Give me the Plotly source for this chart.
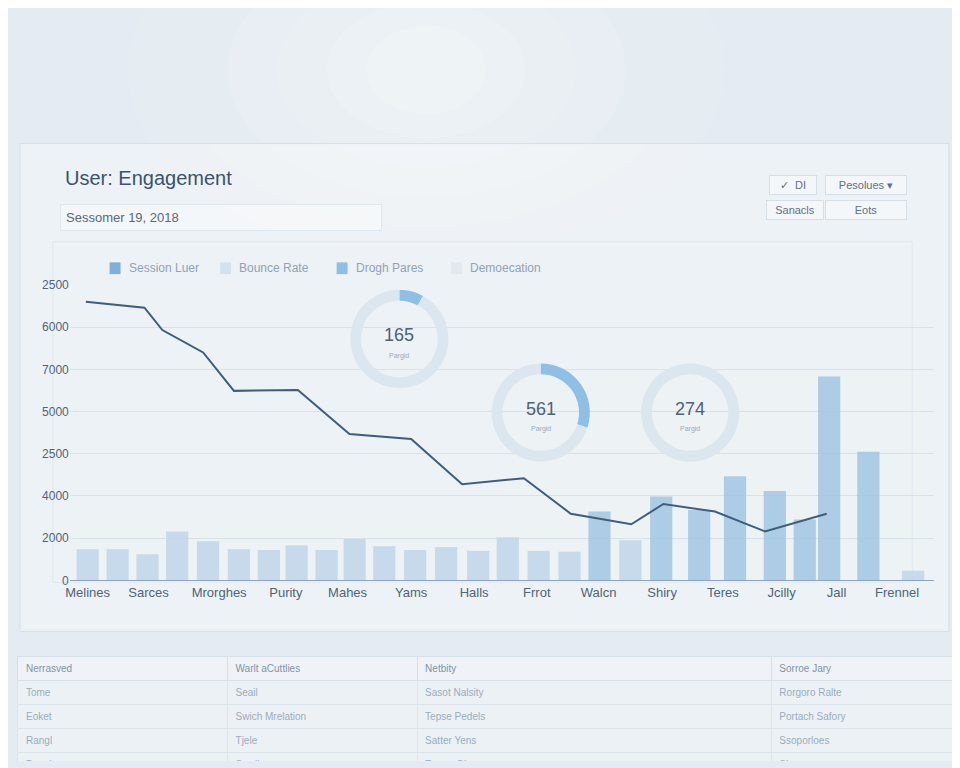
import plotly.graph_objects as go

# ------------------------- DATA -------------------------
bar_x = [0.58, 1.55, 2.52, 3.48, 4.48, 5.48, 6.45, 7.35, 8.32, 9.23, 10.19, 11.19, 12.19,
         13.23, 14.19, 15.19, 16.19, 17.16, 18.16, 19.16, 20.39, 21.55, 22.84, 23.81,
         24.6, 25.87, 27.32]
bar_values = [740, 740, 620, 1160, 930, 740, 720, 830, 720, 980, 810, 720, 790,
              700, 1020, 700, 680, 1630, 950, 1990, 1670, 2470, 2120, 1440,
              4830, 3050, 230]

line_x = [0.52, 2.42, 3.0, 4.32, 5.32, 7.39, 9.06, 11.06, 12.71, 14.71, 16.23,
          18.19, 19.23, 20.9, 22.52, 24.52]
line_values = [6600, 6460, 5930, 5400, 4490, 4510, 3470, 3350, 2280, 2420, 1580,
               1330, 1810, 1630, 1160, 1580]

category_pos = [0.58, 2.55, 4.84, 7.0, 9.0, 11.06, 13.1, 15.13, 17.13, 19.19,
                21.16, 23.06, 24.84, 26.8]
categories = ["Melines", "Sarces", "Mrorghes", "Purity", "Mahes", "Yams", "Halls",
              "Frrot", "Walcn", "Shiry", "Teres", "Jcilly", "Jall", "Frennel"]

y_tick_vals = [0, 1000, 2000, 3000, 4000, 5000, 6000, 7000]
y_tick_text = ["0", "2000", "4000", "2500", "5000", "7000", "6000", "2500"]

donut_labels = ["165", "561", "274"]
donut_shares = [8, 30, 0]

legend_names = ["Session Luer", "Bounce Rate", "Drogh Pares", "Demoecation"]
legend_colors = ["#7fb0d8", "#d4e2ee", "#8fc0e4", "#e2e8ee"]

table_cols = [["Nerrasved", "Tome", "Eoket", "Rangl", "Desais"],
              ["Warlt aCuttlies", "Seail", "Swich Mrelation", "Tjele", "Swell"],
              ["Netbity", "Sasot Nalsity", "Tepse Pedels", "Satter Yens", "Tpnon Ohn"],
              ["Sorroe Jary", "Rorgoro Ralte", "Portach Safory", "Ssoporloes", "Sloror"]]

# page puts the figure a few px in from the top-left corner
W, H, OFF = 952, 760, 4


def px(x):
    return (x - OFF) / W


def py(y):
    return 1 - (y - OFF) / H


# ------------------------- FIGURE -------------------------
fig = go.Figure()

# soft glow at top
for rx, ry, a in [(300, 190, 0.06), (250, 160, 0.07), (200, 130, 0.08),
                  (150, 100, 0.1), (100, 70, 0.12), (60, 45, 0.15)]:
    fig.add_shape(type="circle", xref="paper", yref="paper", x0=px(420 - rx),
                  x1=px(420 + rx), y0=py(60 + ry), y1=py(60 - ry),
                  fillcolor=f"rgba(255,255,255,{a})", line_width=0, layer="below")

bar_colors = ["#a6c8e4" if v > 1300 else "#c3d8ea" for v in bar_values]
fig.add_trace(go.Bar(x=bar_x, y=bar_values, width=0.72, marker_color=bar_colors,
                     marker_line_width=0, opacity=0.9, showlegend=False))
fig.add_trace(go.Scatter(x=line_x, y=line_values, mode="lines",
                         line=dict(color="#3f5d7c", width=2), showlegend=False))

# donuts
centers = [(393, 334), (535, 409), (685, 409)]
r = 50
for (cx, cy), lab, share in zip(centers, donut_labels, donut_shares):
    vals = [share, 100 - share] if share else [100]
    cols = ["#8ec0e6", "#dce6ee"] if share else ["#dce6ee"]
    fig.add_trace(go.Pie(values=vals, hole=0.78,
                         domain=dict(x=[px(cx - r), px(cx + r)], y=[py(cy + r), py(cy - r)]),
                         marker=dict(colors=cols), textinfo="none", sort=False,
                         direction="clockwise", rotation=0, showlegend=False,
                         hoverinfo="skip"))
    fig.add_annotation(x=px(cx), y=py(cy - 4), xref="paper", yref="paper",
                       xanchor="center", yanchor="middle",
                       text=lab, showarrow=False, font=dict(size=18, color="#4d6178"))
    fig.add_annotation(x=px(cx), y=py(cy + 17), xref="paper", yref="paper",
                       xanchor="center", yanchor="middle",
                       text="Pargid", showarrow=False, font=dict(size=7, color="#9aabbb"))

# legend (drawn manually)
leg_x = [102, 213, 330, 445]
for lx, name, col in zip(leg_x, legend_names, legend_colors):
    fig.add_shape(type="rect", xref="paper", yref="paper",
                  x0=px(lx), x1=px(lx + 11), y0=py(268), y1=py(256),
                  fillcolor=col, line_width=0)
    fig.add_annotation(x=px(lx + 17), y=py(262), xref="paper", yref="paper",
                       text=name, showarrow=False, xanchor="left", yanchor="middle",
                       font=dict(size=12, color="#8fa3b6"))

# panel, title and controls
fig.add_shape(type="rect", xref="paper", yref="paper", x0=px(12), x1=px(945),
              y0=py(632), y1=py(135), fillcolor="rgba(255,255,255,0.35)",
              line=dict(color="#d5dfe8", width=1), layer="below")
fig.add_shape(type="rect", xref="paper", yref="paper", x0=px(45), x1=px(908),
              y0=py(582), y1=py(235), fillcolor="rgba(255,255,255,0)",
              line=dict(color="#e0e8ef", width=1), layer="below")
fig.add_annotation(x=px(55), y=py(170), xref="paper", yref="paper",
                   text="User: Engagement", showarrow=False, xanchor="left",
                   yanchor="middle", font=dict(size=20, color="#3b536d"))
fig.add_annotation(x=px(52), y=py(210), xref="paper", yref="paper",
                   text="Sessomer 19, 2018", showarrow=False, xanchor="left",
                   yanchor="middle", borderpad=5, bordercolor="#dfe7ee",
                   bgcolor="rgba(255,255,255,0.4)", width=310, align="left",
                   font=dict(size=13, color="#56697d"))
for tx, ty, t, w in [(788, 177, "✓  DI", 40), (862, 177, "Pesolues ▾", 74),
                     (790, 203, "Sanacls", 50), (862, 203, "Eots", 74)]:
    fig.add_annotation(x=px(tx), y=py(ty), xref="paper", yref="paper",
                       xanchor="center", yanchor="middle",
                       text=t, showarrow=False, width=w, borderpad=3,
                       bordercolor="#d5dfe8", bgcolor="rgba(255,255,255,0.4)",
                       font=dict(size=11, color="#5e7185"))

# bottom table
fig.add_trace(go.Table(
    domain=dict(x=[px(10), px(952)], y=[0, py(658)]),
    columnwidth=[210, 190, 355, 185],
    header=dict(values=[c[0] for c in table_cols], fill_color="rgba(255,255,255,0.4)",
                line_color="#d5dfe8", align="left", height=24,
                font=dict(size=10, color="#7f93a6")),
    cells=dict(values=[c[1:] for c in table_cols], fill_color="rgba(255,255,255,0.3)",
               line_color="#dde5ec", align="left", height=24,
               font=dict(size=10, color="#9aacbc"))))

fig.update_layout(
    width=W, height=H, margin=dict(l=0, r=0, t=0, b=0),
    paper_bgcolor="#e4ebf2", plot_bgcolor="rgba(0,0,0,0)", showlegend=False,
    font=dict(family="Liberation Sans, Arial", color="#4e6479"),
    xaxis=dict(domain=[px(62), px(930)], range=[0, 28], tickvals=category_pos,
               ticktext=categories, showgrid=False, zeroline=False, showline=True,
               linecolor="#8ea3b6", tickfont=dict(size=13, color="#4e6479")),
    yaxis=dict(domain=[py(580), py(279)], range=[0, 7000],
               tickvals=y_tick_vals, ticktext=y_tick_text, gridcolor="#d8e2ea",
               zeroline=False, tickfont=dict(size=12, color="#4e6479")),
)

fig.write_html("out.html")
